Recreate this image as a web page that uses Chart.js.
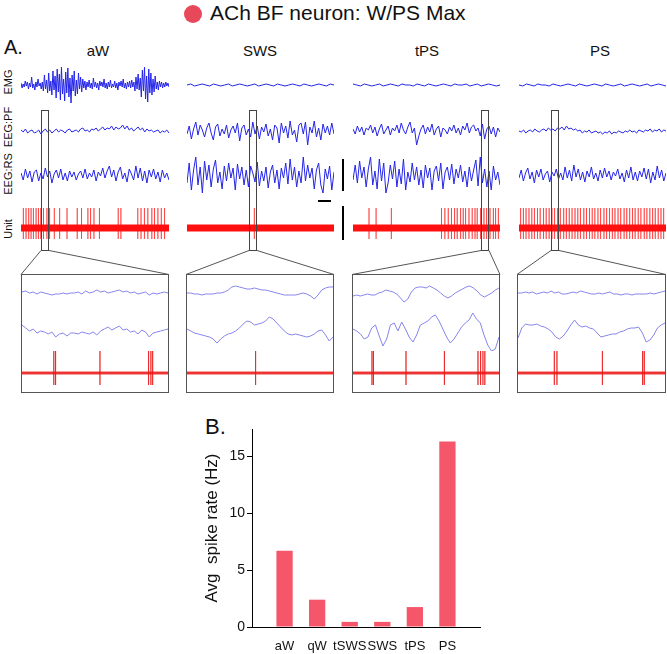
<!DOCTYPE html>
<html>
<head>
<meta charset="utf-8">
<script src="https://cdn.jsdelivr.net/npm/chart.js@4"></script>
<style>
  body { margin: 0; background: #fff; font-family: "Liberation Sans", Arial, sans-serif; }
  #page { position: relative; width: 667px; height: 654px; overflow: hidden; }
  .abs { position: absolute; }
  .lbl { position: absolute; color: #111; white-space: nowrap; }
  .rot { position: absolute; font-size: 11px; color: #111; transform: translate(-50%, -50%) rotate(-90deg); white-space: nowrap; }
  .zbox { position: absolute; border: 1.5px solid #555; box-sizing: border-box; }
  .sel { position: absolute; border: 1px solid #444; box-sizing: border-box; }
  .bar { position: absolute; background: #000; }
</style>
</head>
<body>
<div id="page">
  <div class="abs" style="left:184px;top:5px;width:18px;height:18px;border-radius:50%;background:#e8495a"></div>
  <div class="lbl" style="left:210px;top:1px;font-size:21px">ACh BF neuron: W/PS Max</div>
  <div class="lbl" style="left:4px;top:36px;font-size:20px">A.</div>
  <div class="lbl" style="left:98px;top:42px;font-size:15px;transform:translateX(-50%)">aW</div>
  <div class="lbl" style="left:260px;top:42px;font-size:15px;transform:translateX(-50%)">SWS</div>
  <div class="lbl" style="left:427px;top:42px;font-size:15px;transform:translateX(-50%)">tPS</div>
  <div class="lbl" style="left:600px;top:42px;font-size:15px;transform:translateX(-50%)">PS</div>
  <div class="rot" style="left:8px;top:82px">EMG</div>
  <div class="rot" style="left:8px;top:127px">EEG:PF</div>
  <div class="rot" style="left:8px;top:174px">EEG:RS</div>
  <div class="rot" style="left:8px;top:229px">Unit</div>
  <div class="lbl" style="left:205px;top:414px;font-size:22px">B.</div>
  <div class="bar" style="left:342px;top:159px;width:2px;height:32px"></div>
  <div class="bar" style="left:318px;top:200px;width:13px;height:2px"></div>
  <div class="bar" style="left:342px;top:206px;width:2px;height:34px"></div>
</div>
<script>
// ---- panel B data ----
const states = ['aW', 'qW', 'tSWS', 'SWS', 'tPS', 'PS'];
const spikeRates = [6.7, 2.4, 0.45, 0.45, 1.75, 16.3];
const rateTicks = [0, 5, 10, 15];

// ---- panel A traces (estimated, arbitrary units) ----
const emgAW = [2,-3,1,-2,4,-1,3,-4,2,-2,8,-3,1,-5,3,-2,6,-1,2,-4,
  3,-6,10,-4,5,-8,12,-6,4,-10,14,-5,9,-13,16,-7,11,-15,18,-9,
  6,-16,13,-8,17,-12,7,-18,10,-6,14,-11,5,-9,12,-4,8,-7,6,-3,
  4,-5,3,-2,5,-3,2,-4,7,-2,3,-3,2,-5,4,-1,3,-2,6,-3,
  2,-4,3,-2,5,-3,1,-2,4,-3,2,-5,3,-1,4,-2,6,-3,2,-4,
  3,-2,4,-3,5,-2,3,-6,8,-4,11,-5,7,-12,15,-6,18,-14,9,-17,
  16,-8,12,-10,6,-7,9,-4,3,-5,4,-2,3,-3,2,-2,3,-1,2,-2];
const emgSWS = [0,1,-1,0,1,0,-1,1,0,-1,0,1,-1,0,1,0,-1,0,1,-1,0,1,0,-1,1,0,-1,0,1,0,-1,1,0,-1,0,1,0,-1,1,0];
const emgTPS = [1,0,-1,1,0,-1,0,1,-1,0,1,0,-1,1,0,0,-1,1,0,-1,1,0,-1,0,1,0,-1,1,0,0,1,-1,0,1,-1,0,1,0,-1,0];
const emgPS = [0,-1,1,0,-1,1,0,0,-1,1,0,-1,0,1,0,-1,1,0,-1,0,1,0,-1,1,0,-1,0,1,-1,0,1,0,-1,0,1,-1,0,1,0,-1];

const pfAW = [1,-1,2,-2,0,1,-2,-1,1,-3,0,2,-1,1,-2,0,2,-1,1,0,-2,1,2,-1,0,1,-1,2,3,0,1,-1,2,1,3,0,2,4,1,3,2,5,1,4,2,3,6,2,5,1,3,0,2,4,1,3,-1,2,0,1,-1,0,1,-2,0,-1,1,-2];
const pfSWS = [-3,5,-8,2,9,-4,6,1,-6,3,8,-2,-9,4,7,-5,2,-3,6,-7,1,5,-2,8,-10,3,6,-4,2,-6,9,-3,5,-8,4,-1,7,-5,2,-9,6,3,-12,8,-2,5,-7,10,-4,1,-11,6,8,-3,9,-14,4,-2,10,-6,3,-9,7,-2,5,-4,8,-3];
const pfTPS = [2,-3,5,-1,4,-4,3,1,6,-2,4,-5,2,7,-3,1,5,-4,3,0,6,-2,8,1,-3,4,9,-2,3,-14,-5,2,6,-3,4,-1,7,-4,2,5,-6,3,1,-3,4,0,6,-2,3,-4,5,1,8,-2,4,6,0,3,-5,7,-8,2,5,-3,4,-6,3,-1];
const pfPS = [0,-1,1,-2,0,1,-1,2,0,-1,1,2,0,3,1,2,0,3,2,4,1,5,2,3,1,2,0,1,-2,0,-1,1,-2,-1,0,-2,-1,-3,-1,-2,0,-3,-1,-2,0,-1,-2,0,-1,1,-1,0,-2,1,0,-1,1,0,2,-1,1,0,2,-1,1,0];

const rsAW = [2,-5,6,-3,4,-7,3,5,-6,2,-4,7,-2,4,-8,1,5,-3,6,-5,2,-6,4,-2,3,-5,1,4,-3,6,-4,2,-2,5,-6,3,-1,7,-3,4,9,-2,5,-6,3,8,-4,2,-7,6,1,-5,9,-3,7,-6,4,-8,5,-2,6,-4,3,-7,5,-3,2,-5];
const rsSWS = [-8,12,-15,5,18,-10,8,-18,14,-5,10,-12,6,15,-8,3,-14,9,-6,12,-3,7,-15,11,-4,8,-10,5,-12,9,2,-7,13,-11,4,-6,8,-13,3,10,-8,5,-14,7,-3,12,-9,16,-5,8,-12,4,-8,18,-6,10,-3,7,-14,5,12,-10,-18,6,-4,9,-15,3];
const rsTPS = [-5,10,-8,14,-3,8,-12,6,18,-10,4,-14,16,-6,12,-18,-8,10,-4,14,-12,6,-9,16,-15,3,-7,12,-5,8,-10,5,-13,10,-3,7,-15,4,9,-6,12,-14,3,8,-5,11,-9,6,-3,10,-7,4,-12,8,-6,5,15,-11,18,-8,6,-12,4,-15,9,-5,3,-10];
const rsPS = [-3,5,-6,2,7,-4,3,-8,5,-2,6,-5,1,4,-7,3,-1,6,-4,2,-5,8,-3,5,-6,10,-2,6,-5,3,-7,4,-2,8,-4,2,-6,5,-3,7,-2,4,-5,3,-1,6,-4,2,-7,5,-3,8,-5,3,-6,4,-2,7,-4,6,-8,3,-5,9,-3,5,-6,2];

// spike times (s, within a 10 s window)
const spikesAW = [0.16,0.34,0.52,0.68,0.84,1.02,1.18,1.34,1.52,1.75,1.93,2.25,2.61,3.11,3.8,4.09,4.52,4.7,4.93,5.3,6.57,6.75,7.89,8.11,8.34,8.57,8.84,9.02,9.25,9.48,9.7];
const spikesSWS = [4.58];
const spikesTPS = [1.09,1.57,2.61,6.02,6.25,6.48,6.7,6.91,7.09,7.32,7.5,7.66,7.89,8.11,8.3,8.45,8.68,8.91,9.09,9.32,9.55,9.7,9.89];
const spikesPS = [0.11,0.3,0.48,0.68,0.87,1.05,1.26,1.44,1.67,1.85,2.05,2.24,2.42,2.63,2.81,3.04,3.22,3.42,3.61,3.81,4.0,4.18,4.41,4.59,4.8,4.98,5.16,5.37,5.55,5.78,5.96,6.16,6.35,6.53,6.74,6.92,7.15,7.33,7.53,7.72,7.9,8.11,8.29,8.52,8.7,8.9,9.09,9.27,9.47,9.66,9.84];

// expanded 1 s windows
const zPfAW = [1,2,0,1,-1,1,0,-1,-2,-1,-1,0,-1,0,0,1,-1,2,0,1,3,1,2,0,1,2,3,1,2,0,1,-1,0,1,-2,0,-1,0,1,0];
const zRsAW = [6,3,0,2,-2,0,-1,-3,-1,-6,-3,-2,-5,-2,-2,-3,-1,-2,-3,-1,-4,0,2,4,1,3,5,1,2,-1,0,-3,1,-1,-6,-2,-1,0,1,2];
const zPfSWS = [0,0,-1,-1,-2,-1,-1,-1,0,0,1,3,6,7,6,5,4,4,5,4,3,3,2,1,0,-1,-2,-2,-2,-2,-1,0,-1,-3,-6,-2,3,5,6,6];
const zRsSWS = [2,0,-2,-3,-4,-5,-6,-8,-12,-8,-5,-3,-2,0,3,7,10,9,6,7,8,10,14,12,8,4,0,-3,-4,-3,-4,-5,-6,-5,-3,0,1,-4,-10,-6];
const zPfTPS = [-3,-2,-3,-2,-1,-2,-2,0,1,3,2,1,-1,-5,-9,-6,1,5,6,6,5,7,5,3,0,-3,-5,-3,0,2,4,6,7,5,2,-2,-4,-2,0,3,5];
const zRsTPS = [2,0,-3,-8,-6,3,6,-5,-15,-8,6,8,0,9,2,-6,-11,-4,6,8,10,14,16,10,2,-6,-12,-8,-2,4,8,11,18,12,8,-4,-14,-20,-18,-6];
const zPfPS = [0,0,1,0,1,-1,0,1,0,2,0,1,-1,-1,0,1,0,2,1,0,-1,-1,0,-1,0,1,-1,-1,-2,-1,-1,-2,-1,-1,-1,-1,0,-1,0,1,2];
const zRsPS = [-7,3,7,6,6,7,5,4,2,-1,-6,-8,-5,0,6,11,6,4,5,3,2,-2,-6,-5,-4,-3,-3,-1,0,2,3,3,4,-2,-11,-9,-4,3,6,8];
const zSpikesAW = [0.218,0.23,0.534,0.867,0.883,0.895];
const zSpikesSWS = [0.47];
const zSpikesTPS = [0.13,0.14,0.363,0.626,0.856,0.874,0.89,0.903];
const zSpikesPS = [0.247,0.265,0.574,0.848,0.859];

const page = document.getElementById('page');
const BLUE = '#2424e8';
const LIGHT = '#8585ee';
const RED = '#ff1010';

function makeCanvas(left, top, w, h) {
  const c = document.createElement('canvas');
  c.width = w; c.height = h;
  c.style.position = 'absolute';
  c.style.left = left + 'px';
  c.style.top = top + 'px';
  page.appendChild(c);
  return c;
}

function toPoints(arr, span) {
  return arr.map((v, i) => ({ x: i * span / (arr.length - 1), y: v }));
}

function spikePoints(times, span, up, down) {
  const pts = [{ x: 0, y: 0 }];
  times.forEach(t => {
    pts.push({ x: t, y: 0 }, { x: t, y: up }, { x: t, y: -down }, { x: t, y: 0 });
  });
  pts.push({ x: span, y: 0 });
  return pts;
}

function traceChart(canvas, span, ymin, ymax, datasets) {
  return new Chart(canvas, {
    type: 'line',
    data: { datasets: datasets },
    options: {
      responsive: false,
      animation: false,
      events: [],
      layout: { padding: 0 },
      elements: { point: { radius: 0 }, line: { tension: 0 } },
      plugins: { legend: { display: false }, tooltip: { enabled: false } },
      scales: {
        x: { type: 'linear', display: false, min: 0, max: span },
        y: { display: false, min: ymin, max: ymax }
      }
    }
  });
}

function line(data, color, width) {
  return { data: data, borderColor: color, borderWidth: width, fill: false };
}

const columns = [
  { x: 21, w: 148, box: [21, 148], sel: 41, emg: emgAW, pf: pfAW, rs: rsAW, sp: spikesAW, zpf: zPfAW, zrs: zRsAW, zsp: zSpikesAW },
  { x: 187, w: 147, box: [186, 148], sel: 249, emg: emgSWS, pf: pfSWS, rs: rsSWS, sp: spikesSWS, zpf: zPfSWS, zrs: zRsSWS, zsp: zSpikesSWS },
  { x: 353, w: 147, box: [352, 148], sel: 481, emg: emgTPS, pf: pfTPS, rs: rsTPS, sp: spikesTPS, zpf: zPfTPS, zrs: zRsTPS, zsp: zSpikesTPS },
  { x: 519, w: 147, box: [517, 149], sel: 551, emg: emgPS, pf: pfPS, rs: rsPS, sp: spikesPS, zpf: zPfPS, zrs: zRsPS, zsp: zSpikesPS }
];

let svg = '<svg class="abs" style="left:0;top:0" width="667" height="654">';
columns.forEach(col => {
  const T = 10;
  traceChart(makeCanvas(col.x, 63, col.w, 44), T, -22, 22, [line(toPoints(col.emg, T), BLUE, 1)]);
  traceChart(makeCanvas(col.x, 109, col.w, 44), T, -22, 22, [line(toPoints(col.pf, T), BLUE, 1)]);
  traceChart(makeCanvas(col.x, 151, col.w, 48), T, -24, 24, [line(toPoints(col.rs, T), BLUE, 1)]);
  traceChart(makeCanvas(col.x, 202, col.w, 44), T, -18, 26, [
    line([{ x: 0, y: 0 }, { x: T, y: 0 }], RED, 7),
    line(spikePoints(col.sp, T, 20, 11), 'rgba(255,20,20,0.55)', 1)
  ]);

  // expanded window
  const bx = col.box[0], bw = col.box[1];
  const box = document.createElement('div');
  box.className = 'zbox';
  box.style.cssText = `left:${bx}px;top:274px;width:${bw}px;height:119px`;
  page.appendChild(box);
  traceChart(makeCanvas(bx + 1, 274, bw - 2, 38), 1, -19, 19, [line(toPoints(col.zpf, 1), LIGHT, 1)]);
  traceChart(makeCanvas(bx + 1, 311, bw - 2, 40), 1, -20, 20, [line(toPoints(col.zrs, 1), LIGHT, 1)]);
  traceChart(makeCanvas(bx + 1, 350, bw - 2, 40), 1, -17, 23, [
    line([{ x: 0, y: 0 }, { x: 1, y: 0 }], 'rgba(235,20,20,0.8)', 3),
    line(spikePoints(col.zsp, 1, 22, 12), 'rgba(230,0,0,0.65)', 1)
  ]);

  const sel = document.createElement('div');
  sel.className = 'sel';
  sel.style.cssText = `left:${col.sel}px;top:110px;width:8px;height:141px`;
  page.appendChild(sel);
  svg += `<line x1="${col.sel}" y1="250.5" x2="${bx}" y2="274.5" stroke="#555" stroke-width="1"/>`;
  svg += `<line x1="${col.sel + 8}" y1="250.5" x2="${bx + bw}" y2="274.5" stroke="#555" stroke-width="1"/>`;
});
svg += '</svg>';
page.insertAdjacentHTML('beforeend', svg);

// ---- panel B ----
const barLabels = [''].concat(states, ['']);
const barValues = [null].concat(spikeRates, [null]);
new Chart(makeCanvas(180, 410, 310, 244), {
  type: 'bar',
  data: {
    labels: barLabels,
    datasets: [{ data: barValues, backgroundColor: '#f5566a', barPercentage: 0.5, categoryPercentage: 1 }]
  },
  options: {
    responsive: false,
    animation: false,
    events: [],
    layout: { padding: { top: 19, right: 10, left: 0, bottom: 0 } },
    plugins: { legend: { display: false }, tooltip: { enabled: false } },
    scales: {
      x: {
        offset: false,
        grid: { display: false },
        border: { display: true, color: '#000', width: 1 },
        ticks: { color: '#111', font: { family: 'Liberation Sans', size: 13 }, padding: 4, maxRotation: 0, autoSkip: false },
        afterFit: s => { s.height = 27; }
      },
      y: {
        min: 0, max: 17.4,
        afterBuildTicks: s => { s.ticks = rateTicks.map(v => ({ value: v })); },
        grid: { drawOnChartArea: false, drawTicks: true, tickLength: 5, color: '#000' },
        border: { display: true, color: '#000', width: 1 },
        ticks: { color: '#111', font: { family: 'Liberation Sans', size: 14 }, padding: 2 },
        title: { display: true, text: 'Avg  spike rate (Hz)', color: '#111', font: { family: 'Liberation Sans', size: 17 }, padding: { top: 22, bottom: 0 } },
        afterFit: s => { s.width = 72; }
      }
    }
  }
});
</script>
</body>
</html>
